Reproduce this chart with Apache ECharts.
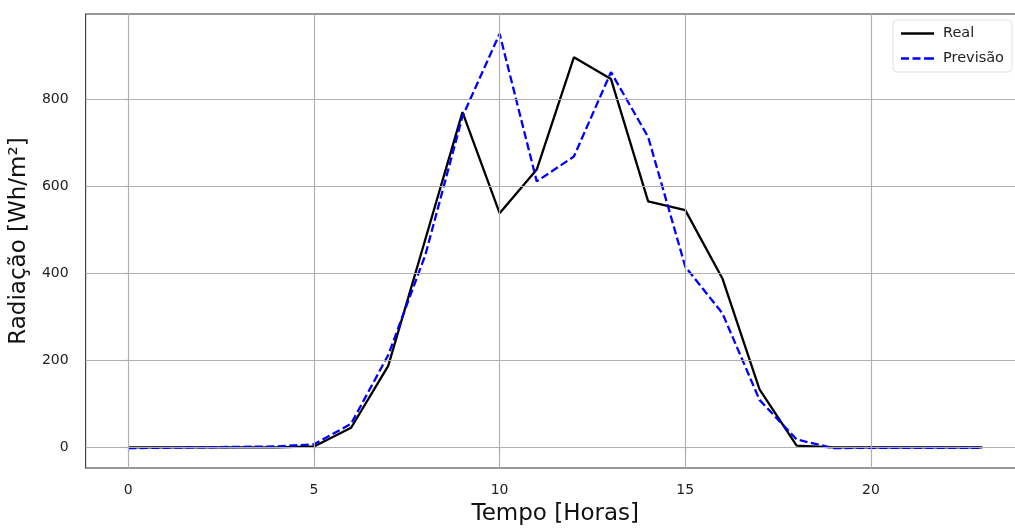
<!DOCTYPE html>
<html><head><meta charset="utf-8">
<script src="https://cdn.jsdelivr.net/npm/echarts@6/dist/echarts.min.js"></script>
<style>html,body{margin:0;padding:0;background:#fff;overflow:hidden}#c{width:1025px;height:531px}</style>
</head><body><div id="c"></div>
<script>
const hours = [0,1,2,3,4,5,6,7,8,9,10,11,12,13,14,15,16,17,18,19,20,21,22,23];
const real = [0,0,0,0,0,2,45,187,478,770,538,638,896,846,565,545,388,133,4,0,0,0,0,0];
const previsao = [-2,-1,0,1,2,7,54,212,442,760,950,611,668,862,713,415,308,109,18,-2,-1,-1,-1,-1];
const xTicks = [0,5,10,15,20];
const yTicks = [0,200,400,600,800];

const chart = echarts.init(document.getElementById('c'));
const font = 'DejaVu Sans';
chart.setOption({
  animation:false,
  grid:{left:85, top:14, width:940, height:457, show:true, borderColor:'#333', borderWidth:1.1},
  legend:{
    left:893, top:20, orient:'vertical', itemWidth:33, itemHeight:2.5, itemGap:10,
    backgroundColor:'rgba(255,255,255,0.8)', borderColor:'#e0e0e0', borderWidth:1, borderRadius:4,
    padding:[6,8,6,8],
    textStyle:{fontFamily:font, fontSize:14.5, color:'#222', padding:[0,0,0,4]},
    data:[
      {name:'Real', icon:'path://M0,0h33v2.5h-33z', itemStyle:{color:'#000'}},
      {name:'Previsão', icon:'path://M0,0h8v2.5h-8zM11.5,0h8v2.5h-8zM23,0h8v2.5h-8zM31,0h2v2.5h-2z', itemStyle:{color:'#0000ff'}}
    ]
  },
  xAxis:{
    type:'value', min:-1.15, max:24.15,
    axisLine:{show:false},
    axisTick:{show:true, customValues:xTicks, length:5, lineStyle:{color:'#333', width:1.1}},
    axisLabel:{customValues:xTicks, fontFamily:font, fontSize:14, color:'#222', margin:15},
    splitLine:{show:false},
    name:'Tempo [Horas]', nameLocation:'middle', nameGap:35,
    nameTextStyle:{fontFamily:font, fontSize:23, color:'#111'}
  },
  yAxis:{
    type:'value', min:-47.5, max:995.5,
    axisLine:{show:false},
    axisTick:{show:true, customValues:yTicks, length:5, lineStyle:{color:'#333', width:1.1}},
    axisLabel:{customValues:yTicks, fontFamily:font, fontSize:14, color:'#222', margin:17},
    splitLine:{show:false},
    name:'Radiação [Wh/m²]', nameLocation:'middle', nameGap:44,
    nameTextStyle:{fontFamily:font, fontSize:23, color:'#111'}
  },
  series:[
    {type:'line', name:'grid', data:[], silent:true,
     markLine:{symbol:'none', silent:true, label:{show:false},
       lineStyle:{color:'#b0b0b0', width:1.15, type:'solid'},
       data: xTicks.map(v=>({xAxis:v})).concat(yTicks.map(v=>({yAxis:v})))}},
    {type:'line', name:'Real', data:hours.map((h,i)=>[h,real[i]]), symbol:'none',
     lineStyle:{color:'#000', width:2.3}, itemStyle:{color:'#000'}, z:3},
    {type:'line', name:'Previsão', data:hours.map((h,i)=>[h,previsao[i]]), symbol:'none',
     lineStyle:{color:'#0000ff', width:2.3, type:[8,3.5]}, itemStyle:{color:'#0000ff'}, z:4}
  ]
});
</script></body></html>
